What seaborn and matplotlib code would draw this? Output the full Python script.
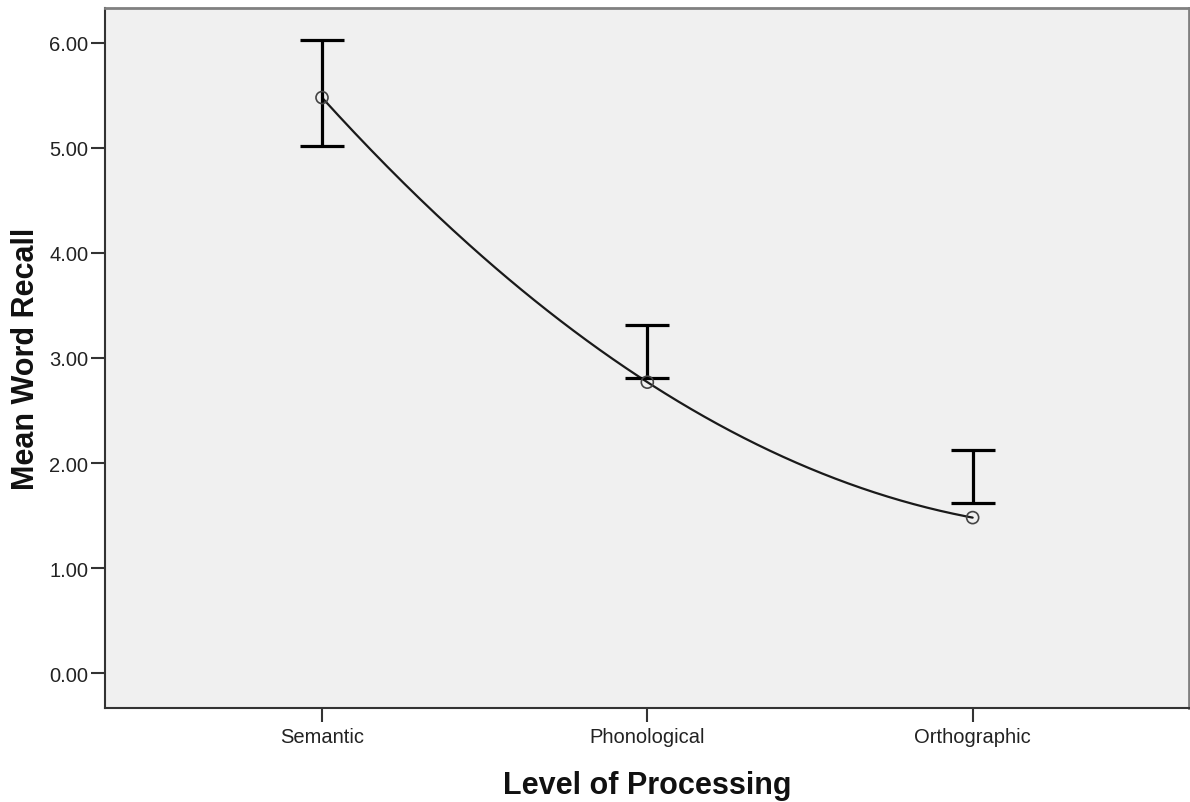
import numpy as np
import pandas as pd
import matplotlib
matplotlib.use("Agg")
import matplotlib.pyplot as plt
import seaborn as sns

# Data
levels = ["Semantic", "Phonological", "Orthographic"]
mean_recall = [5.48, 2.77, 1.48]
bar_low = [5.02, 2.81, 1.62]
bar_high = [6.03, 3.31, 2.12]
y_ticks = [0, 1, 2, 3, 4, 5, 6]

sns.set_theme(style="white")
plt.rcParams["font.family"] = ["Liberation Sans", "DejaVu Sans"]

fig, ax = plt.subplots(figsize=(11.9, 8.03), dpi=100)
fig.subplots_adjust(left=105 / 1190, right=1189 / 1190, top=1 - 9 / 803, bottom=1 - 709 / 803)
ax.set_facecolor("#f0f0f0")

xpos = np.arange(len(levels))

# smooth interpolation line through the means (SPSS-style)
coef = np.polyfit(xpos, mean_recall, 2)
xs = np.linspace(xpos[0], xpos[-1], 200)
curve = pd.DataFrame({"x": xs, "y": np.polyval(coef, xs)})
sns.lineplot(data=curve, x="x", y="y", ax=ax, color="#1a1a1a", linewidth=1.6, zorder=2)

# error bars
lo = np.array(bar_low)
hi = np.array(bar_high)
ax.errorbar(xpos, (lo + hi) / 2, yerr=(hi - lo) / 2, fmt="none", ecolor="black",
            elinewidth=2.3, capsize=15.5, capthick=2.3, zorder=3)

# mean markers
pts = pd.DataFrame({"x": xpos, "y": mean_recall})
sns.scatterplot(data=pts, x="x", y="y", ax=ax, s=75, facecolor="none",
                edgecolor="#444444", linewidth=1.2, zorder=4)

ax.set_xlim(-0.667, 2.665)
ax.set_ylim(-0.333, 6.333)
ax.set_xticks(xpos)
ax.set_xticklabels(levels)
ax.set_yticks(y_ticks)
ax.set_yticklabels([f"{v:.2f}" for v in y_ticks])
ax.tick_params(axis="both", direction="out", length=10, width=1.5, color="#333333",
               labelsize=14.5, labelcolor="#222222", left=True, bottom=True, pad=2)
ax.tick_params(axis="x", pad=4)

ax.set_xlabel("Level of Processing", fontsize=22, fontweight="bold", color="#111111", labelpad=17)
ax.set_ylabel("Mean Word Recall", fontsize=22, fontweight="bold", color="#111111", labelpad=6)

for side in ["left", "bottom"]:
    ax.spines[side].set_color("#333333")
    ax.spines[side].set_linewidth(1.5)
for side in ["top", "right"]:
    ax.spines[side].set_color("#808080")
    ax.spines[side].set_linewidth(2)

fig.savefig("out.png", dpi=100)
